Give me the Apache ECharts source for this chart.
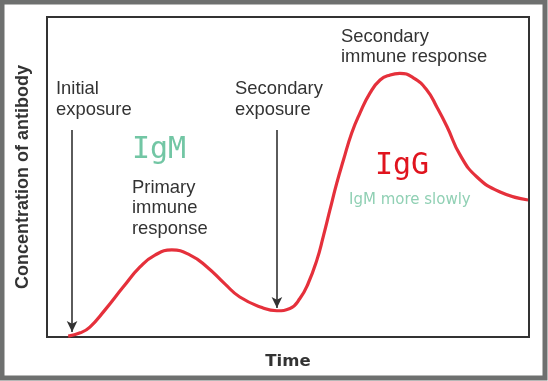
<!DOCTYPE html>
<html>
<head>
<meta charset="utf-8">
<script src="https://cdn.jsdelivr.net/npm/echarts@6/dist/echarts.min.js"></script>
<style>
html,body{margin:0;padding:0;background:#fff;}
#chart{width:548px;height:381px;}
</style>
</head>
<body>
<div id="chart"></div>
<script>
// Time (0-100) and antibody concentration (0-100)
var timeValues = [4.4, 6.9, 8.9, 12.0, 15.8, 19.3, 22.4, 25.9, 29.7, 33.2, 36.9, 40.0, 44.6, 47.7, 50.4, 52.5, 54.2, 56.0, 57.3, 58.7, 60.1, 61.5, 63.2, 64.9, 67.0, 69.1, 71.2, 73.2, 76.0, 78.8, 80.9, 83.0, 85.7, 89.2, 94.0, 99.8];
var concentrationValues = [0.3, 1.3, 3.1, 8.4, 15.6, 21.9, 25.6, 27.2, 25.6, 21.9, 16.6, 12.5, 9.2, 8.2, 8.9, 12.1, 16.8, 24.1, 31.3, 39.7, 48.0, 55.3, 63.7, 69.9, 76.2, 80.3, 81.9, 82.4, 81.0, 77.2, 71.8, 65.7, 56.9, 50.0, 45.3, 42.8];
// Exposure arrows: time, start level, tip level
var arrowTimes = [5.2, 47.7];
var arrowTops = [64.7, 64.7];
var arrowTips = [1.6, 9.1];
var xAxisTitle = 'Time';
var yAxisTitle = 'Concentration of antibody';

var curve = timeValues.map(function (t, i) { return [t, concentrationValues[i]]; });
var arrows = arrowTimes.map(function (t, i) {
  return [{coord: [t, arrowTops[i]]}, {coord: [t, arrowTips[i]]}];
});

var sans = '"Liberation Sans", Arial, sans-serif';
var mono = '"DejaVu Sans Mono", monospace';
function txt(s, x, y, size, color, family) {
  return {type: 'text', x: x, y: y, silent: true,
    style: {text: s, fontSize: size, fontFamily: family || sans, fill: color, verticalAlign: 'middle', align: 'left'}};
}

var chart = echarts.init(document.getElementById('chart'), null, {renderer: 'canvas'});
chart.setOption({
  animation: false,
  backgroundColor: '#fff',
  grid: {left: 47, top: 17, right: 19, bottom: 44, show: true, borderColor: '#333', borderWidth: 2, backgroundColor: 'transparent'},
  xAxis: {type: 'value', min: 0, max: 100, name: xAxisTitle, nameLocation: 'middle', nameGap: 16,
    nameTextStyle: {fontSize: 16.5, fontWeight: 'bold', color: '#333', fontFamily: '"DejaVu Sans", sans-serif'},
    axisLine: {show: false}, axisTick: {show: false}, axisLabel: {show: false}, splitLine: {show: false}},
  yAxis: {type: 'value', min: 0, max: 100, name: yAxisTitle, nameLocation: 'middle', nameGap: 15,
    nameTextStyle: {fontSize: 18, fontWeight: 'bold', color: '#333', fontFamily: sans},
    axisLine: {show: false}, axisTick: {show: false}, axisLabel: {show: false}, splitLine: {show: false}},
  series: [{
    type: 'line', data: curve, smooth: 0.5, showSymbol: false, silent: true,
    lineStyle: {color: '#e5303b', width: 3.2},
    markLine: {
      silent: true, symbol: ['none', 'arrow'], symbolSize: [8, 11],
      label: {show: false},
      lineStyle: {color: '#333', width: 1.6, type: 'solid'},
      emphasis: {disabled: true},
      data: arrows
    }
  }],
  graphic: [
    {type: 'rect', silent: true, shape: {x: 2, y: 2, width: 543, height: 376}, style: {fill: 'none', stroke: '#6e706f', lineWidth: 5}},
    txt('Initial', 56, 89, 18.4, '#333'),
    txt('exposure', 56, 110, 18.4, '#333'),
    txt('Secondary', 235, 89, 18.4, '#333'),
    txt('exposure', 235, 110, 18.4, '#333'),
    txt('Secondary', 341, 37, 18.4, '#333'),
    txt('immune response', 341, 57, 18.4, '#333'),
    txt('IgM', 132, 150, 30, '#72c6a4', mono),
    txt('Primary', 132, 188, 18.4, '#333'),
    txt('immune', 132, 208, 18.4, '#333'),
    txt('response', 132, 229, 18.4, '#333'),
    txt('IgG', 375, 166, 30, '#e0141e', mono),
    txt('IgM more slowly', 349, 200, 15, '#90d0b4', '"DejaVu Sans", sans-serif')
  ]
});
</script>
</body>
</html>
